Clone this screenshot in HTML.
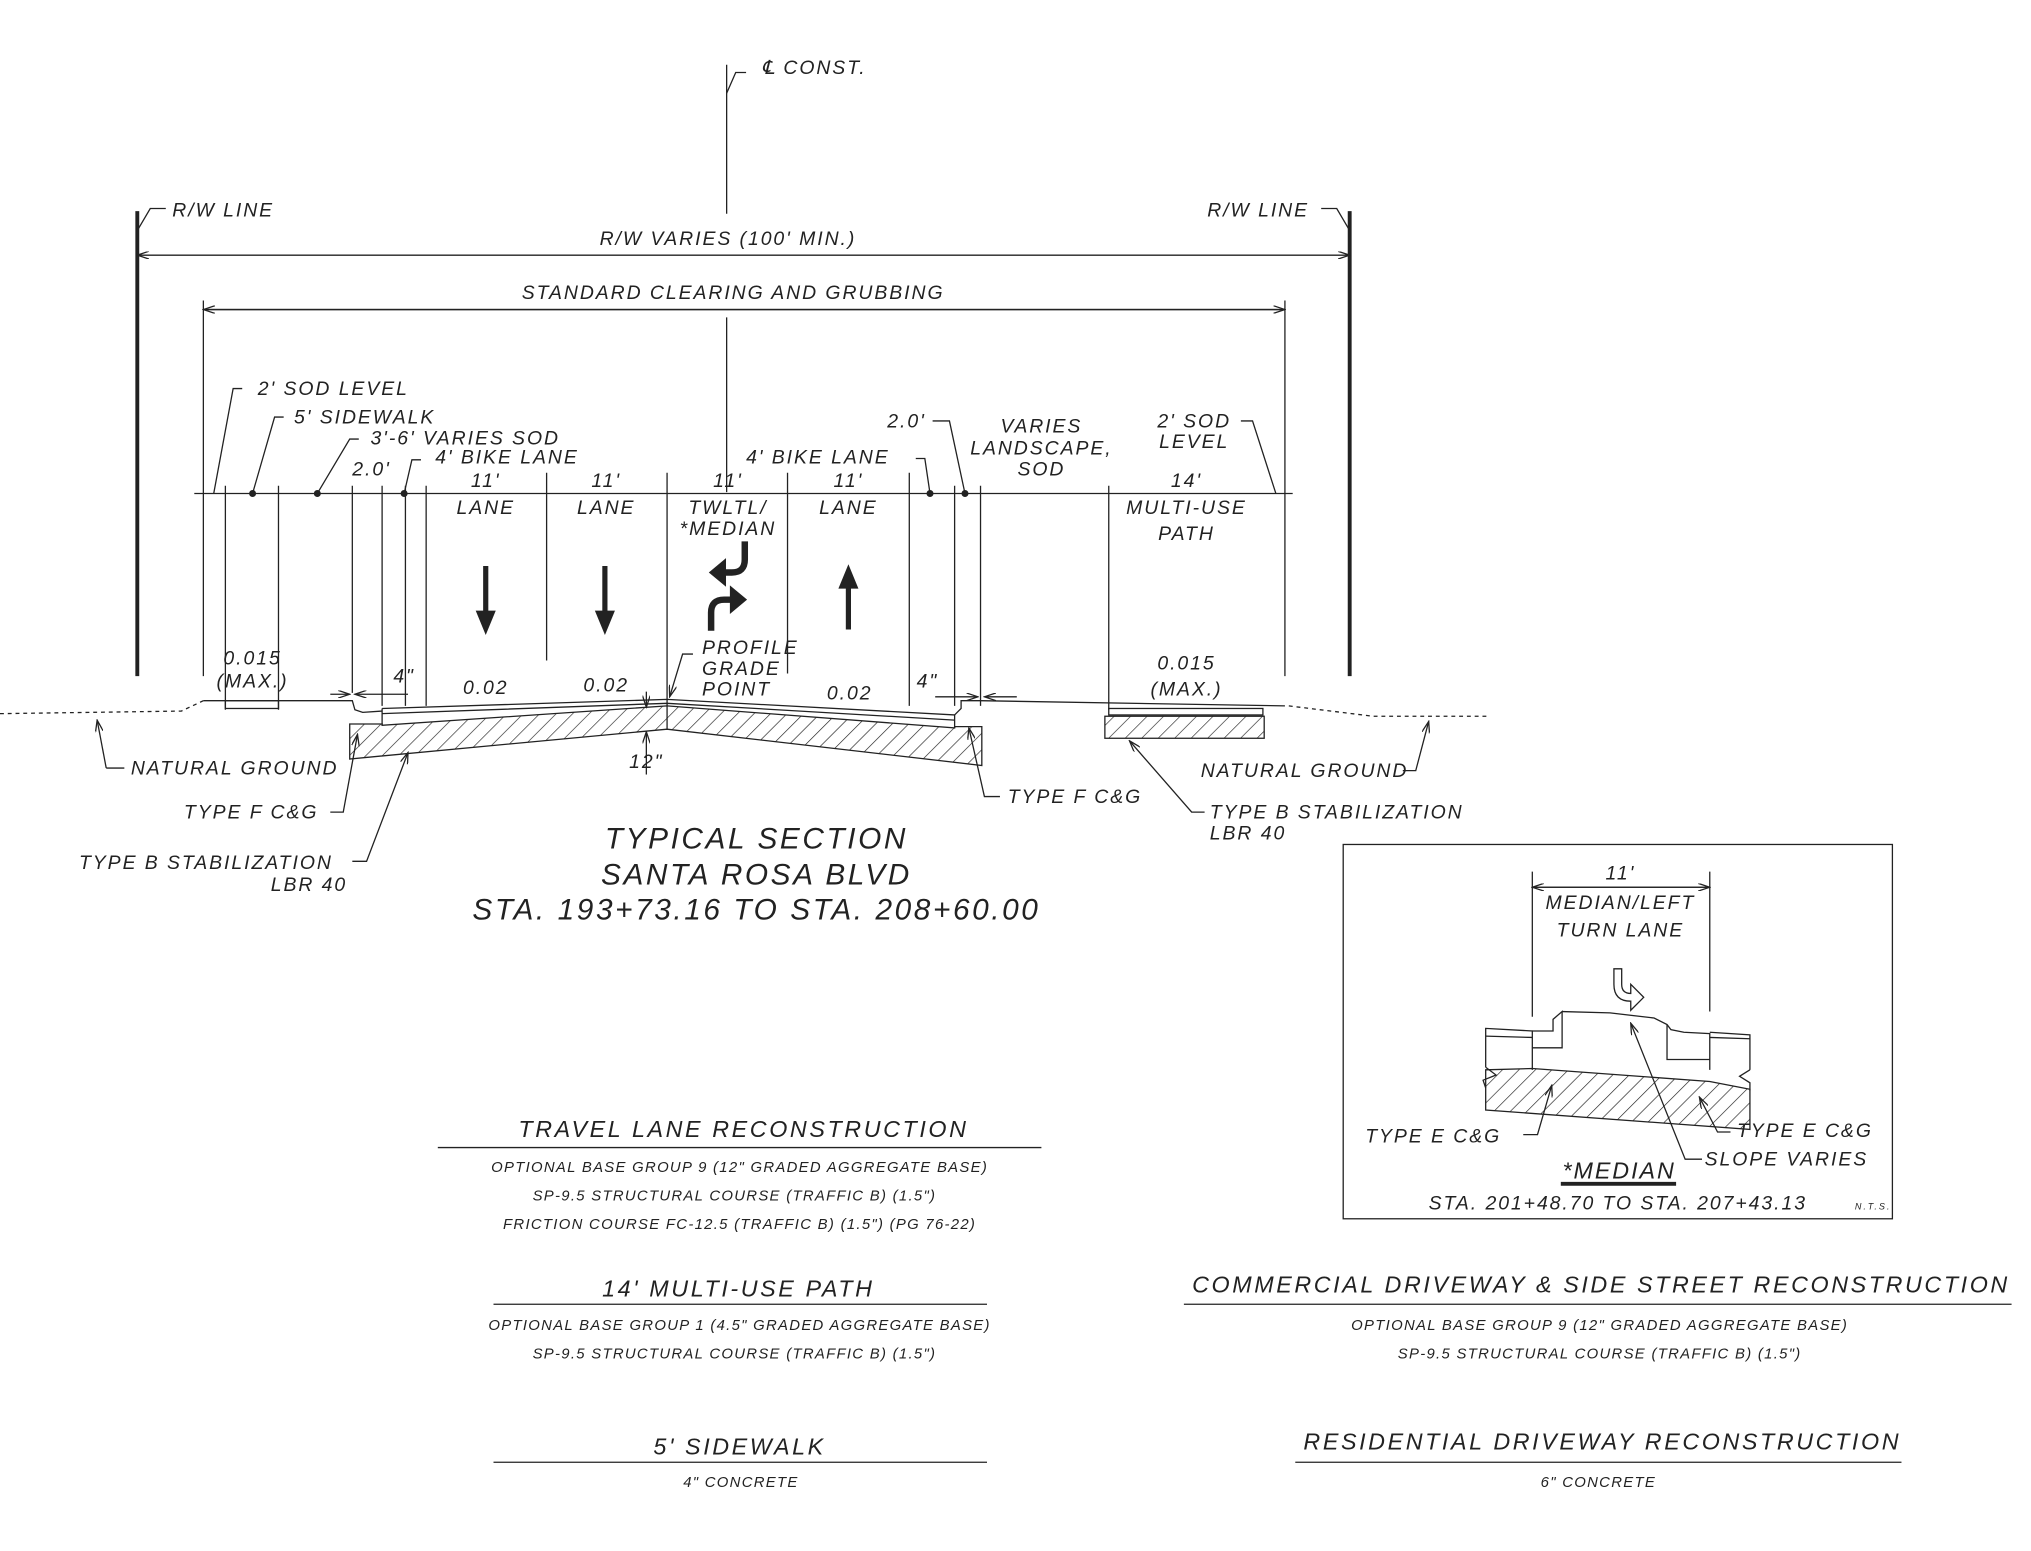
<!DOCTYPE html>
<html><head><style>
html,body{margin:0;padding:0;background:#fff;}
svg{display:block;}
text{font-family:"Liberation Sans",sans-serif;font-style:italic;fill:#222;}
</style></head><body>
<svg width="2031" height="1551" viewBox="0 0 1568 1197.5" preserveAspectRatio="none" xmlns="http://www.w3.org/2000/svg">
<defs>
<pattern id="h" patternUnits="userSpaceOnUse" width="9" height="9" patternTransform="rotate(45)">
<line x1="0" y1="0" x2="0" y2="9" stroke="#222" stroke-width="1"/></pattern>
<marker id="a" markerWidth="10" markerHeight="6" refX="9" refY="3" orient="auto" markerUnits="userSpaceOnUse"><path d="M0,0 L9,3 L0,6" fill="none" stroke="#222" stroke-width="1"/></marker>
</defs>
<g stroke="#222" stroke-width="1" fill="none">
<line x1="561" y1="50" x2="561" y2="165"/>
<line x1="561" y1="245" x2="561" y2="380"/>
<polyline points="561,72 568,56 576,56"/>
<line x1="106" y1="163" x2="106" y2="522" stroke-width="3"/>
<line x1="1042" y1="163" x2="1042" y2="522" stroke-width="3"/>
<polyline points="106,178 116,161 128,161"/>
<polyline points="1042,178 1032,161 1020,161"/>
<line x1="106" y1="197" x2="1042" y2="197" marker-end="url(#a)"/>
<line x1="1042" y1="197" x2="106" y2="197" marker-end="url(#a)"/>
<line x1="157" y1="239" x2="992" y2="239" marker-end="url(#a)"/>
<line x1="992" y1="239" x2="157" y2="239" marker-end="url(#a)"/>
<line x1="157" y1="232" x2="157" y2="522"/>
<line x1="992" y1="232" x2="992" y2="522"/>
<line x1="150" y1="381" x2="998" y2="381"/>
<g>
<line x1="174" y1="375" x2="174" y2="548"/>
<line x1="215" y1="375" x2="215" y2="548"/>
<line x1="272" y1="375" x2="272" y2="535"/>
<line x1="295" y1="375" x2="295" y2="545"/>
<line x1="313" y1="375" x2="313" y2="545"/>
<line x1="329" y1="375" x2="329" y2="545"/>
<line x1="422" y1="365" x2="422" y2="510"/>
<line x1="515" y1="365" x2="515" y2="540"/>
<line x1="608" y1="365" x2="608" y2="520"/>
<line x1="702" y1="365" x2="702" y2="545"/>
<line x1="737" y1="375" x2="737" y2="545"/>
<line x1="757" y1="375" x2="757" y2="545"/>
<line x1="856" y1="375" x2="856" y2="548"/>
</g>
<g fill="#222">
<circle cx="195" cy="381" r="2.2"/><circle cx="245" cy="381" r="2.2"/><circle cx="312" cy="381" r="2.2"/><circle cx="718" cy="381" r="2.2"/><circle cx="745" cy="381" r="2.2"/>
</g>
<polyline points="165,381 180,300 187,300"/>
<polyline points="195,381 212,322 219,322"/>
<polyline points="245,381 270,339 277,339"/>
<polyline points="312,381 318,355 325,355"/>
<polyline points="718,381 714,354 707,354"/>
<polyline points="745,381 733,325 720,325"/>
<polyline points="985,381 967,325 958,325"/>
<line x1="375" y1="437" x2="375" y2="474" stroke-width="4"/><path d="M368,472 L382,472 L375,489z" fill="#222"/>
<line x1="467" y1="437" x2="467" y2="474" stroke-width="4"/><path d="M460,472 L474,472 L467,489z" fill="#222"/>
<line x1="655" y1="486" x2="655" y2="452" stroke-width="4"/><path d="M648,454 L662,454 L655,437z" fill="#222"/>
<path d="M575,418 L575,432 Q575,442 565,442 L558,442" stroke-width="5"/><path d="M560,432 L560,452 L548,442z" fill="#222"/>
<path d="M549,487 L549,473 Q549,463 559,463 L566,463" stroke-width="5"/><path d="M564,453 L564,473 L576,463z" fill="#222"/>
<polyline points="157,541 272,541 274,548 280,550 295,549"/>
<rect x="174" y="541" width="41" height="6"/>
<path d="M0,551 L140,549 L157,541" stroke-dasharray="3,3"/>
<path d="M995,545 L1060,553 L1150,553" stroke-dasharray="3,3"/>
<polyline points="737,552 742,547 742,541 757,541 992,545"/>
<rect x="856" y="547" width="119" height="5"/>
<!-- pavement structure -->
<polyline points="295,547 515,540 737,552"/>
<polyline points="295,551 515,543 737,556"/>
<line x1="295" y1="547" x2="295" y2="560"/>
<line x1="737" y1="552" x2="737" y2="562"/>
<polygon points="270,559 295,559 295,560 515,545 737,562 737,561 758,561 758,591 515,563 270,586" fill="url(#h)"/>
<line x1="515" y1="540" x2="515" y2="563"/>
<line x1="499" y1="534" x2="499" y2="546" marker-end="url(#a)"/>
<line x1="499" y1="598" x2="499" y2="565" marker-end="url(#a)"/>
<rect x="853" y="553" width="123" height="17" fill="url(#h)"/>
<line x1="255" y1="536" x2="270" y2="536" marker-end="url(#a)"/><line x1="315" y1="536" x2="274" y2="536" marker-end="url(#a)"/>
<line x1="722" y1="538" x2="755" y2="538" marker-end="url(#a)"/><line x1="785" y1="538" x2="760" y2="538" marker-end="url(#a)"/>
<polyline points="82,593 75,556" marker-end="url(#a)"/><line x1="82" y1="593" x2="96" y2="593"/>
<polyline points="255,627 265,627 276,567" marker-end="url(#a)"/>
<polyline points="272,665 283,665 315,581" marker-end="url(#a)"/>
<polyline points="535,505 527,505 517,538" marker-end="url(#a)"/>
<polyline points="772,615 760,615 748,562" marker-end="url(#a)"/>
<polyline points="930,627 920,627 872,572" marker-end="url(#a)"/>
<polyline points="1083,595 1093,595 1103,557" marker-end="url(#a)"/>
<line x1="338" y1="886" x2="804" y2="886"/>
<line x1="381" y1="1007" x2="762" y2="1007"/>
<line x1="381" y1="1129" x2="762" y2="1129"/>
<line x1="914" y1="1007" x2="1553" y2="1007"/>
<line x1="1000" y1="1129" x2="1468" y2="1129"/>
<rect x="1037" y="652" width="424" height="289"/>
<line x1="1183" y1="673" x2="1183" y2="785"/>
<line x1="1320" y1="673" x2="1320" y2="781"/>
<line x1="1183" y1="685" x2="1320" y2="685" marker-end="url(#a)"/>
<line x1="1320" y1="685" x2="1183" y2="685" marker-end="url(#a)"/>
<path d="M1246,760 L1246,748 L1252,748 L1252,760 Q1252,767 1259,767 L1259,760 L1269,770 L1259,780 L1259,773 Q1246,773 1246,760z"/>
<polyline points="1147,824 1147,794 1183,796 1183,826"/>
<line x1="1147" y1="800" x2="1183" y2="801"/>
<polyline points="1183,796 1199,796 1199,787 1206,781 1206,809 1183,809"/>
<polyline points="1206,781 1243,782 1277,786 1287,791 1290,795 1300,797 1320,798 1320,826"/>
<polyline points="1287,791 1287,818 1320,818"/>
<polyline points="1320,797 1351,799 1351,826"/>
<line x1="1320" y1="801" x2="1351" y2="802"/>
<polyline points="1147,824 1155,830 1145,834 1147,840"/>
<polyline points="1351,826 1343,831 1351,836 1351,842"/>
<polygon points="1147,826 1183,825 1320,835 1351,841 1351,872 1147,857" fill="url(#h)"/>
<polyline points="1176,876 1187,876 1198,838" marker-end="url(#a)"/>
<polyline points="1336,874 1326,874 1312,847" marker-end="url(#a)"/>
<polyline points="1314,895 1301,895 1259,790" marker-end="url(#a)"/>
<line x1="1205" y1="914" x2="1294" y2="914" stroke-width="3"/>
</g>
<g font-size="15" letter-spacing="1.5">
<text x="588" y="57">℄ CONST.</text>
<text x="133" y="167">R/W LINE</text>
<text x="932" y="167">R/W LINE</text>
<text x="562" y="189" text-anchor="middle">R/W VARIES (100' MIN.)</text>
<text x="566" y="231" text-anchor="middle">STANDARD CLEARING AND GRUBBING</text>
<text x="199" y="305">2' SOD LEVEL</text>
<text x="227" y="327">5' SIDEWALK</text>
<text x="286" y="343">3'-6' VARIES SOD</text>
<text x="336" y="358">4' BIKE LANE</text>
<text x="272" y="367">2.0'</text>
<text x="576" y="358">4' BIKE LANE</text>
<text x="685" y="330">2.0'</text>
<text x="804" y="334" text-anchor="middle">VARIES</text>
<text x="804" y="351" text-anchor="middle">LANDSCAPE,</text>
<text x="804" y="367" text-anchor="middle">SOD</text>
<text x="922" y="330" text-anchor="middle">2' SOD</text>
<text x="922" y="346" text-anchor="middle">LEVEL</text>
<text x="375" y="376" text-anchor="middle">11'</text><text x="375" y="397" text-anchor="middle">LANE</text>
<text x="468" y="376" text-anchor="middle">11'</text><text x="468" y="397" text-anchor="middle">LANE</text>
<text x="562" y="376" text-anchor="middle">11'</text><text x="562" y="397" text-anchor="middle">TWLTL/</text><text x="562" y="413" text-anchor="middle">*MEDIAN</text>
<text x="655" y="376" text-anchor="middle">11'</text><text x="655" y="397" text-anchor="middle">LANE</text>
<text x="916" y="376" text-anchor="middle">14'</text><text x="916" y="397" text-anchor="middle">MULTI-USE</text><text x="916" y="417" text-anchor="middle">PATH</text>
<text x="195" y="513" text-anchor="middle">0.015</text><text x="195" y="531" text-anchor="middle">(MAX.)</text>
<text x="916" y="517" text-anchor="middle">0.015</text><text x="916" y="537" text-anchor="middle">(MAX.)</text>
<text x="312" y="527" text-anchor="middle">4"</text>
<text x="716" y="531" text-anchor="middle">4"</text>
<text x="375" y="536" text-anchor="middle">0.02</text>
<text x="468" y="534" text-anchor="middle">0.02</text>
<text x="656" y="540" text-anchor="middle">0.02</text>
<text x="542" y="505">PROFILE</text><text x="542" y="521">GRADE</text><text x="542" y="537">POINT</text>
<text x="499" y="593" text-anchor="middle">12"</text>
<text x="101" y="598">NATURAL GROUND</text>
<text x="927" y="600">NATURAL GROUND</text>
<text x="142" y="632">TYPE F C&amp;G</text>
<text x="778" y="620">TYPE F C&amp;G</text>
<text x="61" y="671">TYPE B STABILIZATION</text>
<text x="268" y="688" text-anchor="end">LBR 40</text>
<text x="934" y="632">TYPE B STABILIZATION</text>
<text x="934" y="648">LBR 40</text>
</g>
<g font-size="23" letter-spacing="2" text-anchor="middle">
<text x="584" y="655">TYPICAL SECTION</text>
<text x="584" y="683">SANTA ROSA BLVD</text>
<text x="584" y="710">STA. 193+73.16 TO STA. 208+60.00</text>
</g>
<g font-size="18" letter-spacing="2" text-anchor="middle">
<text x="574" y="878">TRAVEL LANE RECONSTRUCTION</text>
<text x="570" y="1001">14' MULTI-USE PATH</text>
<text x="571" y="1123">5' SIDEWALK</text>
<text x="1236" y="998">COMMERCIAL DRIVEWAY &amp; SIDE STREET RECONSTRUCTION</text>
<text x="1237" y="1119">RESIDENTIAL DRIVEWAY RECONSTRUCTION</text>
</g>
<g font-size="11.5" letter-spacing="1" text-anchor="middle">
<text x="571" y="905">OPTIONAL BASE GROUP 9 (12" GRADED AGGREGATE BASE)</text>
<text x="567" y="927">SP-9.5 STRUCTURAL COURSE (TRAFFIC B) (1.5")</text>
<text x="571" y="949">FRICTION COURSE FC-12.5 (TRAFFIC B) (1.5") (PG 76-22)</text>
<text x="571" y="1027">OPTIONAL BASE GROUP 1 (4.5" GRADED AGGREGATE BASE)</text>
<text x="567" y="1049">SP-9.5 STRUCTURAL COURSE (TRAFFIC B) (1.5")</text>
<text x="572" y="1148">4" CONCRETE</text>
<text x="1235" y="1027">OPTIONAL BASE GROUP 9 (12" GRADED AGGREGATE BASE)</text>
<text x="1235" y="1049">SP-9.5 STRUCTURAL COURSE (TRAFFIC B) (1.5")</text>
<text x="1234" y="1148">6" CONCRETE</text>
</g>
<g font-size="15" letter-spacing="1.5">
<text x="1251" y="679" text-anchor="middle">11'</text>
<text x="1251" y="702" text-anchor="middle">MEDIAN/LEFT</text>
<text x="1251" y="723" text-anchor="middle">TURN LANE</text>
<text x="1054" y="882">TYPE E C&amp;G</text>
<text x="1341" y="878">TYPE E C&amp;G</text>
<text x="1316" y="900">SLOPE VARIES</text>
<text x="1249" y="934" text-anchor="middle">STA. 201+48.70 TO STA. 207+43.13</text>
<text x="1250" y="910" text-anchor="middle" font-size="18">*MEDIAN</text>
<text x="1432" y="934" font-size="7">N.T.S.</text>
</g>
</svg>
</body></html>
